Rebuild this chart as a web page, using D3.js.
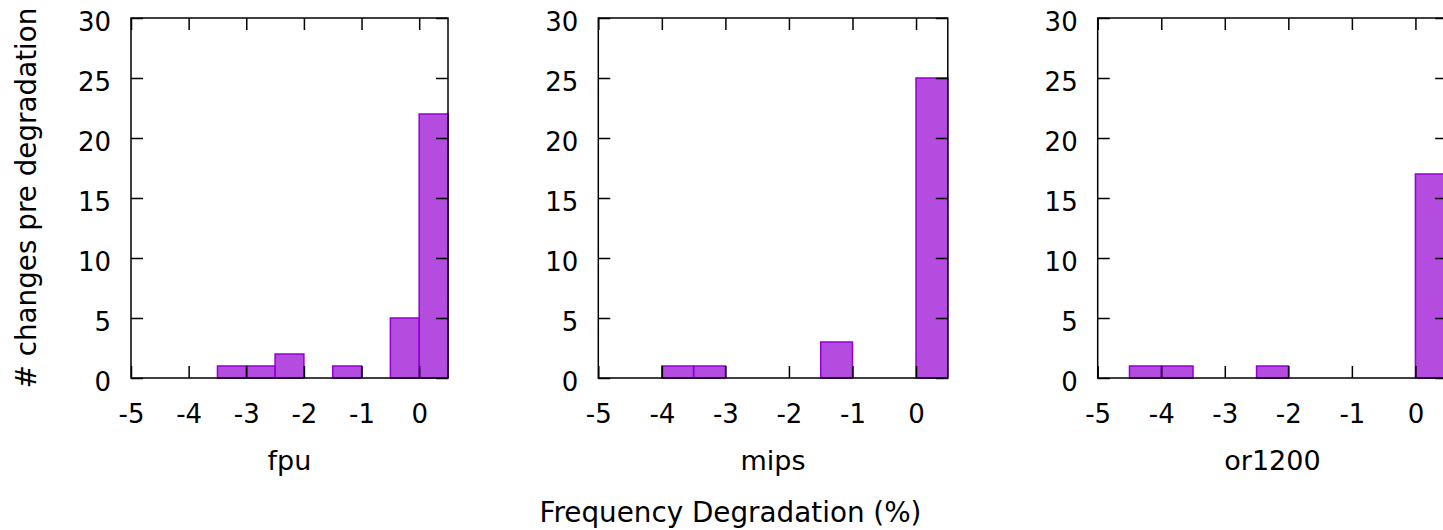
<!DOCTYPE html>
<html>
<head>
<meta charset="utf-8">
<script src="https://cdn.jsdelivr.net/npm/d3@7/dist/d3.min.js"></script>
<style>
  html, body { margin: 0; padding: 0; background: #fff; }
  svg { display: block; }
  text { font-family: "DejaVu Sans", sans-serif; fill: #000; }
</style>
</head>
<body>
<svg id="chart" width="1443" height="530"></svg>
<script>
// Histogram bins: left edge of each 0.5-wide bin and its count, per design
const binWidth = 0.5;
const panelNames = ["fpu", "mips", "or1200"];
const fpuBins = [-3.5, -3, -2.5, -1.5, -0.5, 0];
const fpuCounts = [1, 1, 2, 1, 5, 22];
const mipsBins = [-4, -3.5, -1.5, 0];
const mipsCounts = [1, 1, 3, 25];
const or1200Bins = [-4.5, -4, -2.5, 0];
const or1200Counts = [1, 1, 1, 17];
const xTicks = [-5, -4, -3, -2, -1, 0];
const yTicks = [0, 5, 10, 15, 20, 25, 30];
const xDomain = [-5, 0.5];
const yDomain = [0, 30];

const series = [
  { name: panelNames[0], bins: fpuBins, counts: fpuCounts },
  { name: panelNames[1], bins: mipsBins, counts: mipsCounts },
  { name: panelNames[2], bins: or1200Bins, counts: or1200Counts }
];

// Plot-area frames of the three side-by-side panels
const frames = [
  { left: 131, right: 448 },
  { left: 598.3, right: 947.8 },
  { left: 1097.7, right: 1447.2 }
];
const plotTop = 18, plotBottom = 378, tickLen = 12;
const barColor = "#9400d3";
const plainNumber = d => String(d); // ASCII hyphen for negatives

const svg = d3.select("#chart");
const y = d3.scaleLinear().domain(yDomain).range([plotBottom, plotTop]);

series.forEach((s, i) => {
  const f = frames[i];
  const x = d3.scaleLinear().domain(xDomain).range([f.left, f.right]);
  const g = svg.append("g");

  // bars
  const data = s.bins.map((b, k) => ({ x0: b, x1: b + binWidth, n: s.counts[k] }));
  g.selectAll("rect.bar").data(data).join("rect")
    .attr("class", "bar")
    .attr("x", d => x(d.x0))
    .attr("width", d => x(d.x1) - x(d.x0))
    .attr("y", d => y(d.n))
    .attr("height", d => y(0) - y(d.n))
    .attr("fill", barColor)
    .attr("fill-opacity", 0.7)
    .attr("stroke", barColor)
    .attr("stroke-width", 1.5);

  const styleAxis = sel => {
    sel.select(".domain").remove();
    sel.selectAll(".tick line").attr("stroke", "#000").attr("stroke-width", 1.5);
    sel.selectAll(".tick text").style("font-size", "26px").attr("fill", "#000");
  };

  // bottom axis with labels, ticks pointing inward
  g.append("g").attr("transform", `translate(0,${plotBottom})`)
    .call(d3.axisBottom(x).tickValues(xTicks).tickSize(-tickLen).tickPadding(0).tickFormat(plainNumber))
    .call(styleAxis)
    .call(a => a.selectAll(".tick text").attr("y", 45).attr("dy", null));

  // top mirror ticks
  g.append("g").attr("transform", `translate(0,${plotTop})`)
    .call(d3.axisTop(x).tickValues(xTicks).tickSize(-tickLen).tickFormat(""))
    .call(styleAxis);

  // left axis with labels
  g.append("g").attr("transform", `translate(${f.left},0)`)
    .call(d3.axisLeft(y).tickValues(yTicks).tickSize(-tickLen).tickPadding(0).tickFormat(plainNumber))
    .call(styleAxis)
    .call(a => a.selectAll(".tick text").attr("x", -20).attr("dy", "0.47em"));

  // right mirror ticks
  g.append("g").attr("transform", `translate(${f.right},0)`)
    .call(d3.axisRight(y).tickValues(yTicks).tickSize(-tickLen).tickFormat(""))
    .call(styleAxis);

  // border
  g.append("rect")
    .attr("x", f.left).attr("y", plotTop)
    .attr("width", f.right - f.left).attr("height", plotBottom - plotTop)
    .attr("fill", "none").attr("stroke", "#000").attr("stroke-width", 1.5);

  // panel label
  g.append("text")
    .attr("x", (f.left + f.right) / 2).attr("y", 470)
    .attr("text-anchor", "middle")
    .style("font-size", "27px")
    .text(s.name);
});

// shared axis titles
svg.append("text")
  .attr("transform", `translate(36,${(plotTop + plotBottom) / 2}) rotate(-90)`)
  .attr("text-anchor", "middle")
  .style("font-size", "27.8px")
  .text("# changes pre degradation");

svg.append("text")
  .attr("x", 730.5).attr("y", 522)
  .attr("text-anchor", "middle")
  .style("font-size", "27.8px")
  .text("Frequency Degradation (%)");
</script>
</body>
</html>
